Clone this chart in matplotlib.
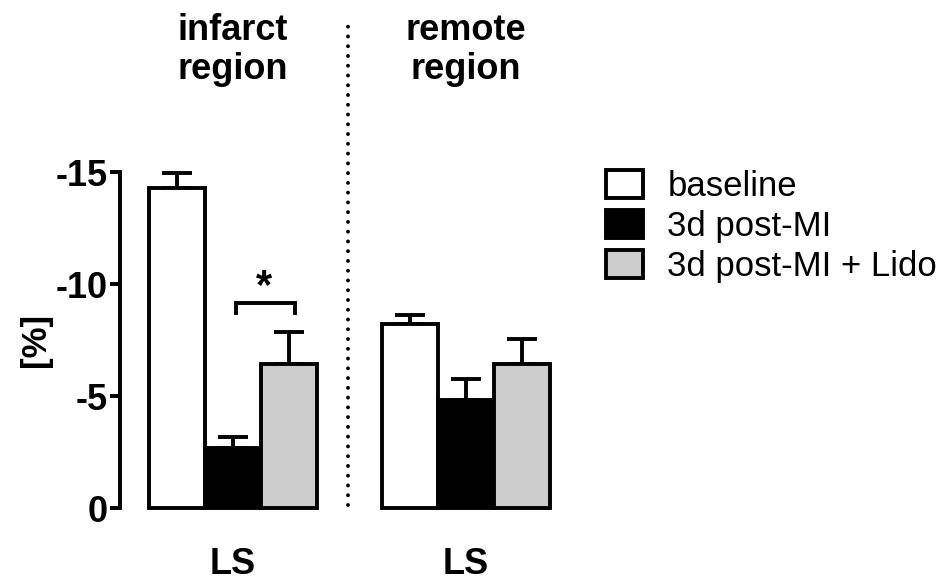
import numpy as np
import matplotlib.pyplot as plt
from matplotlib.patches import Patch

plt.rcParams['font.family'] = ['Liberation Sans', 'DejaVu Sans']

# data (strain values, mean and SEM)
groups = ['infarct\nregion', 'remote\nregion']
conditions = ['baseline', '3d post-MI', '3d post-MI + Lido']
colors = ['white', 'black', '#cccccc']
infarct_mean = [-14.3, -2.7, -6.45]
infarct_sem = [0.67, 0.48, 1.42]
remote_mean = [-8.2, -4.8, -6.45]
remote_sem = [0.4, 0.94, 1.1]
yticks = [0, -5, -10, -15]
ytick_labels = ['0', '-5', '-10', '-15']

lw = 2.8
fig = plt.figure(figsize=(9.51, 5.81), dpi=100)
ax = fig.add_axes([120/951, 73/581, 440/951, 336/581])

offset = 4.16
x1 = np.arange(3)
x2 = x1 + offset
for x, m, s in [(x1, infarct_mean, infarct_sem), (x2, remote_mean, remote_sem)]:
    ax.bar(x, m, width=1.0, color=colors, edgecolor='black', linewidth=lw, clip_on=False, zorder=2)
    ax.errorbar(x, m, yerr=[s, np.zeros(3)], fmt='none', ecolor='black',
                elinewidth=lw, capsize=11, capthick=lw, clip_on=False, zorder=1)

ax.set_xlim(-1.02, 6.84)
ax.set_ylim(0, -15)

# spines / ticks
for sp in ['top', 'right', 'bottom']:
    ax.spines[sp].set_visible(False)
ax.spines['left'].set_linewidth(lw)
ax.set_yticks(yticks, ytick_labels)
ax.tick_params(axis='y', length=7, width=lw, labelsize=26, pad=2)
for t in ax.get_yticklabels():
    t.set_fontweight('bold')
ax.set_xticks([1, 1 + offset], ['LS', 'LS'])
ax.tick_params(axis='x', length=0, labelsize=26, pad=28)
for t in ax.get_xticklabels():
    t.set_fontweight('bold')

ax.set_ylabel('[%]', fontsize=25, fontweight='bold')
ax.yaxis.set_label_coords(-0.155, 0.5)

# group titles
for xc, g in zip([1, 1 + offset], groups):
    ax.text(xc, -20.45, g, ha='center', va='center', fontsize=26,
            fontweight='bold', linespacing=1.17, clip_on=False)

# dotted separator
ax.plot([3.05, 3.05], [-0.13, -21.8], color='black', lw=2.8,
        linestyle=(0, (0.01, 2.5)), dash_capstyle='round', clip_on=False)

# significance bracket
ax.plot([1.05, 1.05, 2.1, 2.1], [-8.7, -9.15, -9.15, -8.7], color='black',
        lw=lw, solid_joinstyle='miter', clip_on=False)
ax.text(1.55, -9.85, '*', ha='center', va='center', fontsize=30, fontweight='bold')

handles = [Patch(facecolor=c, edgecolor='black', linewidth=lw) for c in colors]
fig.legend(handles, conditions, loc='upper left', bbox_to_anchor=(606/951, 1 - 170/581),
           frameon=False, fontsize=25, handlelength=1.07, handleheight=0.86,
           handletextpad=0.7, labelspacing=0.2, borderpad=0, borderaxespad=0)

fig.savefig('out.png', dpi=100)
